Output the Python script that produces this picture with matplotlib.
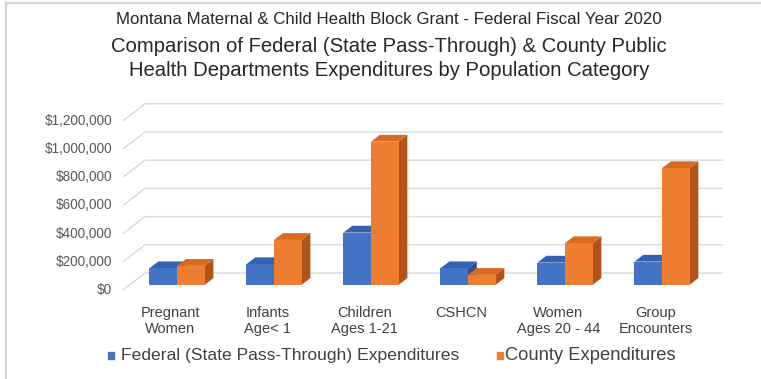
import matplotlib.pyplot as plt
from matplotlib.patches import Polygon

plt.rcParams['font.family'] = ['Liberation Sans', 'DejaVu Sans']

categories = ['Pregnant\nWomen', 'Infants\nAge< 1', 'Children\nAges 1-21',
              'CSHCN', 'Women\nAges 20 - 44', 'Group\nEncounters']
federal = [118000, 147000, 371000, 118000, 158000, 165000]
county = [135000, 319000, 1016000, 71000, 296000, 828000]
ticks = [0, 200000, 400000, 600000, 800000, 1000000, 1200000]
series_names = ['Federal (State Pass-Through) Expenditures', 'County Expenditures']

# front, top, side shades for each series
blue = ('#4472C4', '#3561B5', '#2E528F')
orange = ('#ED7D31', '#D96A1E', '#B25419')

# oblique depth: full floor depth in category units / dollars
DX = 0.227
DY = 120600
bar_w = 0.284
d_front, d_back = 0.3, 0.7

fig = plt.figure(figsize=(7.61, 3.79), dpi=100)
ax = fig.add_axes([0, 0, 1, 1])
ax.set_xlim(-1.757, 6.089)
ax.set_ylim(-631200, 2056700)
ax.axis('off')

# back wall gridlines with the slanted floor part
x_left = -0.489
x_right = 5.697
for t in ticks:
    ax.plot([x_left, x_left + DX, x_right], [t, t + DY, t + DY],
            color='#D9D9D9', lw=1, zorder=1, solid_capstyle='butt')
    ax.text(x_left - 0.11, t, '${:,.0f}'.format(t), ha='right', va='center',
            fontsize=9.8, color='#595959')


def draw_bar(x0, v, shades):
    front, top, side = shades
    ox, oy = d_front * DX, d_front * DY
    dx, dy = (d_back - d_front) * DX, (d_back - d_front) * DY
    x0 = x0 + ox
    x1 = x0 + bar_w
    y0, y1 = oy, v + oy
    ax.add_patch(Polygon([(x1, y0), (x1 + dx, y0 + dy), (x1 + dx, y1 + dy), (x1, y1)],
                         closed=True, facecolor=side, edgecolor='none', zorder=3))
    ax.add_patch(Polygon([(x0, y1), (x1, y1), (x1 + dx, y1 + dy), (x0 + dx, y1 + dy)],
                         closed=True, facecolor=top, edgecolor='none', zorder=3))
    ax.add_patch(Polygon([(x0, y0), (x1, y0), (x1, y1), (x0, y1)],
                         closed=True, facecolor=front, edgecolor='none', zorder=3))


for i, (f, c) in enumerate(zip(federal, county)):
    draw_bar(i - bar_w, f, blue)
    draw_bar(i, c, orange)
    ax.text(i, -110000, categories[i], ha='center', va='top', fontsize=10.5,
            color='#404040', linespacing=1.2)

# legend
ax.add_patch(plt.Rectangle((-0.64, -490000), 0.058, 50000, color=blue[0], zorder=3))
ax.text(-0.51, -465000, series_names[0], ha='left', va='center', fontsize=12.6,
        color='#404040')
ax.add_patch(plt.Rectangle((3.37, -490000), 0.058, 50000, color=orange[0], zorder=3))
ax.text(3.445, -465000, series_names[1], ha='left', va='center', fontsize=13.2,
        color='#404040')

# titles
fig.text(0.511, 1 - 20 / 379, 'Montana Maternal & Child Health Block Grant - Federal Fiscal Year 2020',
         ha='center', va='center', fontsize=12.2, color='#262626')
fig.text(0.511, 1 - 46 / 379, 'Comparison of Federal (State Pass-Through) & County Public',
         ha='center', va='center', fontsize=14.6, color='#262626')
fig.text(0.511, 1 - 71 / 379, 'Health Departments Expenditures by Population Category',
         ha='center', va='center', fontsize=14.6, color='#262626')

# thin frame on the top and left edges
fig.add_artist(plt.Line2D([5.5 / 761, 5.5 / 761], [0, 1 - 3 / 379], color='#D4D4D4', lw=1.6))
fig.add_artist(plt.Line2D([5.5 / 761, 1], [1 - 3 / 379, 1 - 3 / 379], color='#D4D4D4', lw=1.6))

fig.savefig('out.png', dpi=100)
